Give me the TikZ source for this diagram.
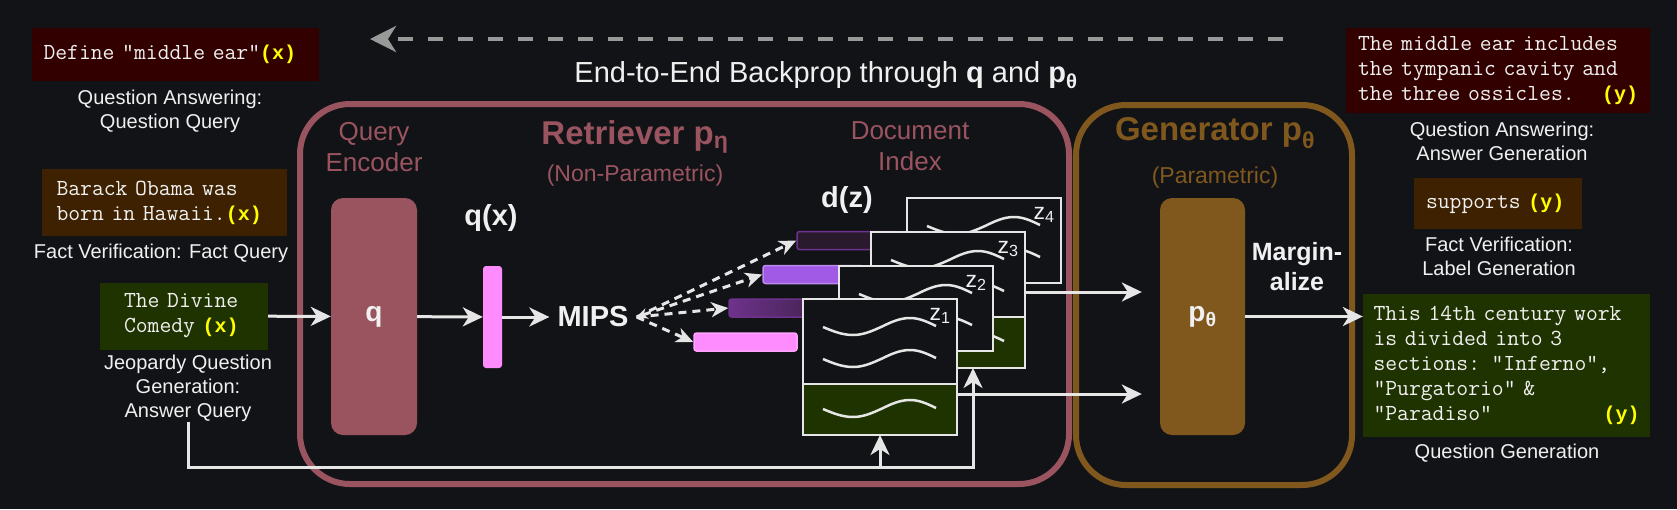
\documentclass[tikz,border=0pt]{standalone}
\usepackage{fontspec}
\setmainfont{Liberation Sans}
\setmonofont{Latin Modern Mono}
\newfontfamily\tagfont{Liberation Mono}
\usetikzlibrary{arrows.meta,positioning}

\definecolor{bg}{RGB}{18,19,23}
\definecolor{fg}{RGB}{240,240,240}
\definecolor{wire}{RGB}{230,230,230}
\definecolor{bpgray}{RGB}{153,153,153}
\definecolor{mauve}{RGB}{154,84,96}
\definecolor{ochre}{RGB}{128,88,30}
\definecolor{redbox}{RGB}{51,0,0}
\definecolor{brownbox}{RGB}{61,33,0}
\definecolor{greenbox}{RGB}{31,51,0}
\definecolor{ylw}{RGB}{255,255,0}
\definecolor{barpink}{RGB}{255,140,255}
\definecolor{barviolet}{RGB}{160,90,230}
\definecolor{barplum}{RGB}{110,50,140}
\definecolor{barnight}{RGB}{42,26,46}

\newcommand{\xtag}{{\tagfont\bfseries\fontsize{20}{25}\selectfont\color{ylw}(x)}}
\newcommand{\ytag}{{\tagfont\bfseries\fontsize{20}{25}\selectfont\color{ylw}(y)}}
\newcommand{\pushright}{\hskip 0pt plus 1filll\relax}

\begin{document}
\begin{tikzpicture}[x=1pt,y=-1pt,
    conn/.style={draw=wire,line width=3pt,-{Stealth[length=20pt,width=19pt,inset=6pt]}},
    probe/.style={draw=wire,line width=3pt,dash pattern=on 8pt off 6pt,-{Stealth[length=17pt,width=15pt,inset=5pt]}},
    io box/.style={font=\ttfamily\fontsize{23}{25}\selectfont,text=fg,align=left,inner ysep=0pt},
    caption/.style={font=\fontsize{20}{24}\selectfont,text=fg,align=center,inner sep=0pt},
    region/.style={font=\fontsize{26}{31}\selectfont,align=center,inner sep=0pt},
    note/.style={font=\fontsize{23}{26}\selectfont,inner sep=0pt},
    heading/.style={font=\bfseries\fontsize{33}{36}\selectfont,inner sep=0pt},
    sym/.style={font=\bfseries\fontsize{29}{32}\selectfont,text=fg,inner sep=0pt},
    block/.style={rounded corners=12pt,minimum width=86pt,minimum height=237pt,text=fg,
      font=\bfseries\fontsize{28}{30}\selectfont},
    bar/.style={minimum height=18pt,rounded corners=2.5pt,inner sep=0pt,line width=1.5pt},
    doc/.style={draw=wire,fill=bg,line width=2.5pt,minimum width=154pt,minimum height=85pt,
      inner sep=0pt,outer sep=0pt,anchor=north west},
    zlab/.style={font=\fontsize{23}{24}\selectfont,text=fg,inner sep=0pt},
    wave/.pic={\draw[wire,line width=2.5pt] (0,0) sin (30,8) cos (58,0) sin (87,-9) cos (113,-1);}]

\useasboundingbox[fill=bg] (0,0) rectangle (1677,509);

\coordinate (bp from) at (1283,39);
\coordinate (bp to) at (370,39);
\draw[bpgray,line width=4.5pt,dash pattern=on 15pt off 15pt,-{Stealth[length=26pt,width=26pt,inset=8pt]}] (bp from) -- (bp to);
\node[font=\fontsize{29}{32}\selectfont,text=fg,inner sep=0pt] (title) at (826,75)
  {End-to-End Backprop through \textbf{q} and \textbf{p\textsubscript{θ}}};

\node[draw=mauve,line width=6pt,rounded corners=50pt,minimum width=769pt,minimum height=380pt] (retriever) at (684.5,294) {};
\node[draw=ochre,line width=6pt,rounded corners=50pt,minimum width=276pt,minimum height=380pt] (generator) at (1214,295) {};

\node[region,text=mauve] (qenc) at (374,147) {Query\\Encoder};
\node[heading,text=mauve] (ret title) at (635,137) {Retriever p\textsubscript{η}};
\node[note,text=mauve] (ret sub) at (635,176) {(Non-Parametric)};
\node[region,text=mauve] (dindex) at (910,146) {Document\\Index};
\node[heading,text=ochre] (gen title) at (1215,133) {Generator p\textsubscript{θ}};
\node[note,text=ochre] (gen sub) at (1215,178) {(Parametric)};

\node[io box,fill=redbox,minimum width=287pt,minimum height=53pt,text width=264pt,inner xsep=11.5pt] (qa in) at (175.5,54.5) {Define "middle ear"\xtag};
\node[caption] (qa in cap) at (170,111) {Question Answering:\\Question Query};
\node[io box,fill=brownbox,minimum width=245pt,minimum height=67pt,text width=216pt,inner xsep=14.5pt] (fv in) at (164.5,202.5) {Barack Obama was\\born in Hawaii.\xtag};
\node[caption] (fv in cap) at (161,253) {Fact Verification: Fact Query};
\node[io box,fill=greenbox,minimum width=168pt,minimum height=67pt,text width=120pt,inner xsep=24pt] (dc) at (184,316) {The Divine\\Comedy \xtag};
\node[caption] (jeop) at (188,388.5) {Jeopardy Question\\Generation:\\Answer Query};

\node[block,fill=mauve] (q) at (374,316.5) {q};
\node[fill=barpink,rounded corners=3pt,minimum width=19pt,minimum height=102pt,inner sep=0pt] (qx) at (492.5,317) {};
\node[sym] (qx lab) at (491,218) {q(x)};
\node[sym,inner xsep=8pt] (mips) at (593,317) {MIPS};
\node[sym] (dz lab) at (847,200) {d(z)};

\node[bar,fill=barpink,draw=barpink!80!white,minimum width=103pt] (b1) at (745.5,342) {};
\node[bar,left color=barplum,right color=barnight!70!barplum,draw=barplum,minimum width=101pt] (b2) at (779.5,308) {};
\node[bar,fill=barviolet,draw=barviolet!70!white,minimum width=100pt] (b3) at (813,274.5) {};
\node[bar,fill=barnight,draw=barplum,minimum width=100pt] (b4) at (847,240.5) {};

\draw[probe] (mips.east) -- (b1.west);
\draw[probe] (mips.east) -- (b2.west);
\draw[probe,{Stealth[length=11pt,width=11pt]}-{Stealth[length=17pt,width=15pt,inset=5pt]}] (mips.east) -- (b3.west);
\draw[probe] (mips.east) -- (b4.west);

\foreach \n/\x/\y in {4/907/198,3/871/232,2/839/266,1/803/299}{
  \node[doc] (z\n) at (\x,\y) {};
  \pic at ([shift={(20,28)}]z\n.north west) {wave};
  \pic at ([shift={(20,60)}]z\n.north west) {wave};
  \ifodd\n
    \node[doc,fill=greenbox,minimum height=51pt] (g\n) at (z\n.south west) {};
    \pic at ([shift={(20,25)}]g\n.north west) {wave};
  \fi
  \node[zlab] (z\n lab) at ([shift={(-17,17)}]z\n.north east) {z\textsubscript{\n}};
}

\node[block,fill=ochre,minimum width=85pt] (pt) at (1202.5,316.5) {p\textsubscript{θ}};
\node[sym,font=\bfseries\fontsize{25}{30}\selectfont,align=center] (marg) at (1297,267) {Margin-\\alize};

\draw[conn] (dc) -- (q);
\draw[conn] (q) -- (qx);
\draw[conn] (qx) -- (mips);
\coordinate (from z3) at ([yshift=-17.5pt]z3.east);
\coordinate (from z1) at ([yshift=15.5pt]g1.east);
\draw[conn,shorten >=18pt] (from z3) -- (from z3 -| pt.west);
\draw[conn,shorten >=18pt] (from z1) -- (from z1 -| pt.west);
\coordinate (loop) at (973,467);
\draw[conn] (jeop.south) |- (loop) -- (loop |- g3.south);
\draw[conn] (g1.south |- loop) -- (g1.south);

\node[io box,fill=redbox,minimum width=304pt,minimum height=85pt,text width=280pt,inner xsep=12pt] (qa out) at (1498,70.5)
  {The middle ear includes\\the tympanic cavity and\\the three ossicles.\pushright\ytag};
\node[caption] (qa out cap) at (1502,141.5) {Question Answering:\\Answer Generation};
\node[io box,fill=brownbox,minimum width=168pt,minimum height=51pt,text width=144pt,inner xsep=12pt] (fv out) at (1498,203.5) {supports \ytag};
\node[caption] (fv out cap) at (1499,256.5) {Fact Verification:\\Label Generation};
\node[io box,fill=greenbox,minimum width=287pt,minimum height=143pt,text width=266pt,inner xsep=10.5pt] (qg) at (1506.5,365.5)
  {This 14th century work\\is divided into 3\\sections: "Inferno",\\"Purgatorio" \&\\"Paradiso"\pushright\ytag};
\node[caption] (qg cap) at (1507,453) {Question Generation};
\draw[conn] (pt.east) -- (pt.east -| qg.west);
\end{tikzpicture}
\end{document}
